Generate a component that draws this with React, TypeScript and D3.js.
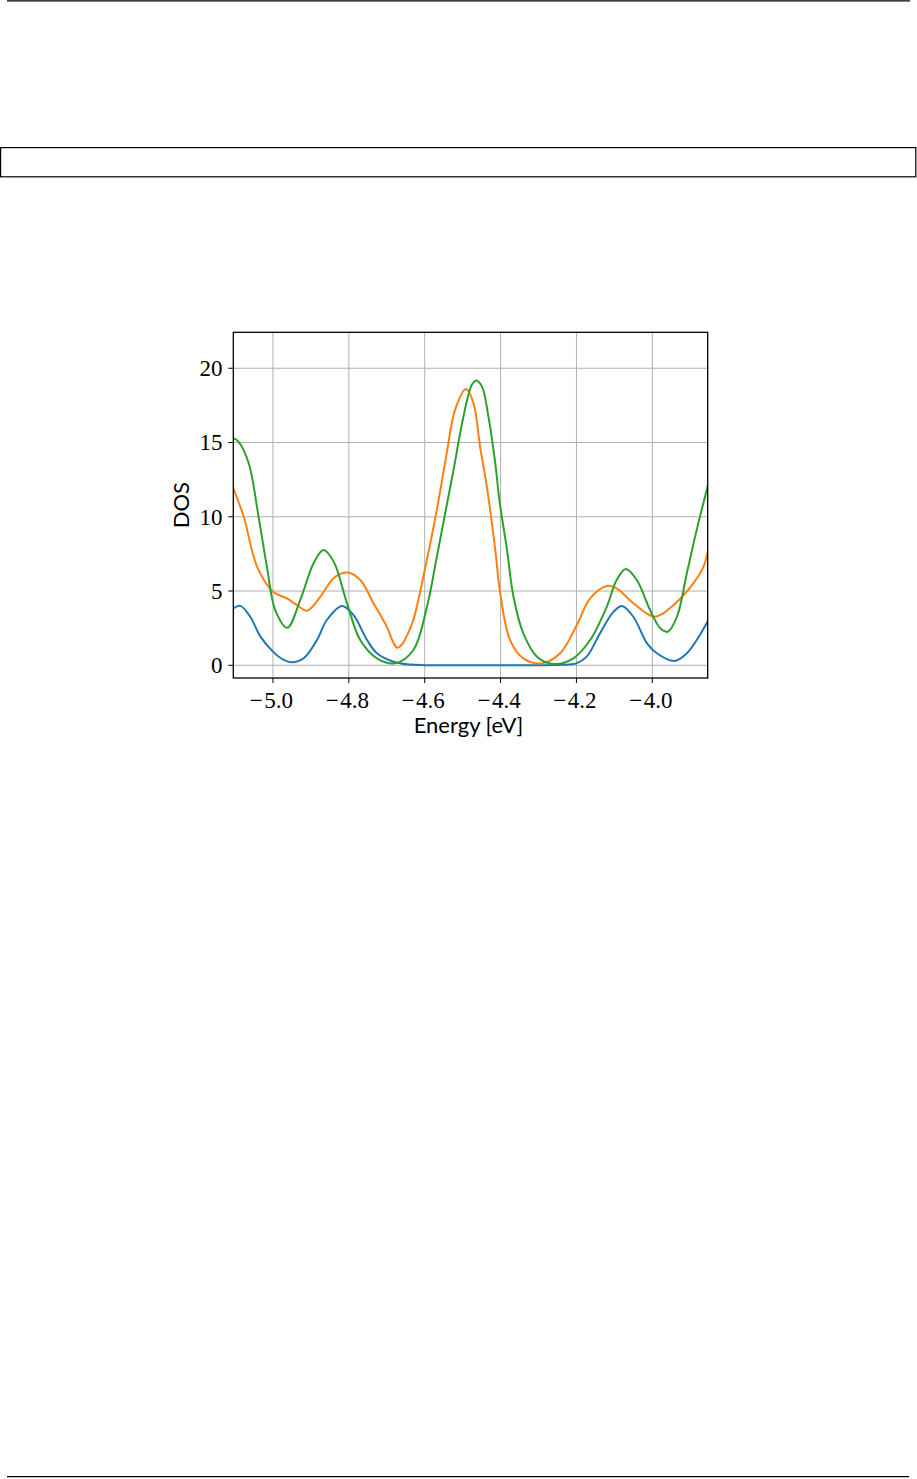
import React from "react";
import * as d3 from "d3";

const W = 917;
const H = 1479;

const xTicks = [-5.0, -4.8, -4.6, -4.4, -4.2, -4.0];
const yTicks = [0, 5, 10, 15, 20];
const xDomain: [number, number] = [-5.1046, -3.854];
const yDomain: [number, number] = [-0.855, 22.42];

const xLabel = "Energy [eV]";
const yLabel = "DOS";

const blueSeries: [number, number][] = [
  [-5.104, 3.84], [-5.086, 4.0], [-5.06, 3.27], [-5.033, 1.93], [-5.0, 0.92],
  [-4.972, 0.36], [-4.95, 0.2], [-4.919, 0.47], [-4.884, 1.7], [-4.858, 3.05],
  [-4.818, 4.0], [-4.788, 3.39], [-4.752, 1.7], [-4.726, 0.81], [-4.682, 0.24],
  [-4.64, 0.05], [-4.6, 0.01], [-4.5, 0.0], [-4.4, 0.0], [-4.3, 0.0],
  [-4.24, 0.03], [-4.2, 0.13], [-4.173, 0.58], [-4.138, 2.15], [-4.102, 3.61],
  [-4.08, 4.0], [-4.05, 3.27], [-4.014, 1.48], [-3.988, 0.81], [-3.942, 0.29],
  [-3.909, 0.81], [-3.883, 1.7], [-3.852, 3.05],
];

const orangeSeries: [number, number][] = [
  [-5.104, 11.87], [-5.077, 10.0], [-5.042, 6.64], [-5.0, 4.96], [-4.963, 4.5],
  [-4.937, 4.06], [-4.91, 3.68], [-4.875, 4.62], [-4.84, 5.86], [-4.805, 6.24],
  [-4.77, 5.74], [-4.735, 4.18], [-4.7, 2.6], [-4.684, 1.6],
  [-4.673, 1.19], [-4.66, 1.4], [-4.645, 2.1], [-4.63, 3.05],
  [-4.6, 6.4], [-4.568, 10.46], [-4.542, 14.27], [-4.52, 17.2], [-4.491, 18.6],
  [-4.471, 17.6], [-4.454, 14.7], [-4.436, 12.0], [-4.414, 7.76], [-4.401, 4.85],
  [-4.375, 1.7], [-4.34, 0.47], [-4.291, 0.13], [-4.243, 0.81], [-4.199, 2.71],
  [-4.164, 4.5], [-4.12, 5.34], [-4.094, 5.18], [-4.05, 4.18], [-3.993, 3.27],
  [-3.944, 4.06], [-3.892, 5.52], [-3.865, 6.64], [-3.852, 7.88],
];

const greenSeries: [number, number][] = [
  [-5.104, 15.29], [-5.091, 15.06], [-5.064, 13.6], [-5.038, 10.0], [-5.016, 6.64],
  [-4.994, 3.72], [-4.962, 2.53], [-4.928, 4.4], [-4.893, 6.87], [-4.867, 7.76],
  [-4.84, 6.98], [-4.805, 4.18], [-4.77, 1.7], [-4.726, 0.47], [-4.678, 0.13],
  [-4.63, 1.03], [-4.594, 3.95], [-4.568, 7.31], [-4.546, 10.24], [-4.524, 13.15],
  [-4.498, 16.74], [-4.476, 18.87], [-4.464, 19.17], [-4.449, 18.76], [-4.432, 16.74],
  [-4.414, 13.6], [-4.403, 11.1], [-4.383, 7.76], [-4.366, 4.62], [-4.34, 2.15],
  [-4.304, 0.58], [-4.261, 0.09], [-4.208, 0.47], [-4.164, 1.7], [-4.12, 3.95],
  [-4.094, 5.74], [-4.07, 6.48], [-4.041, 5.74], [-4.006, 3.72], [-3.979, 2.49],
  [-3.959, 2.26], [-3.935, 3.27], [-3.909, 6.2], [-3.883, 9.11], [-3.852, 12.25],
];

const seriesList = [
  { name: "blue", data: blueSeries, color: "#1f77b4" },
  { name: "orange", data: orangeSeries, color: "#ff7f0e" },
  { name: "green", data: greenSeries, color: "#2ca02c" },
];

export default function App() {
  const left = 233.3;
  const right = 707.7;
  const top = 332.3;
  const bottom = 678;

  const x = d3.scaleLinear().domain(xDomain).range([left, right]);
  const y = d3.scaleLinear().domain(yDomain).range([bottom, top]);

  const line = d3
    .line<[number, number]>()
    .x((d) => x(d[0]))
    .y((d) => y(Math.max(0, d[1])))
    .curve(d3.curveCatmullRom.alpha(0.5));

  const serif = "'Liberation Serif', 'Times New Roman', serif";
  const sans = "Lato, 'Open Sans', sans-serif";

  return (
    <svg
      width={W}
      height={H}
      viewBox={`0 0 ${W} ${H}`}
      style={{ position: "absolute", left: 0, top: 0, background: "#fff" }}
    >
      <rect x={0} y={0} width={W} height={H} fill="#fff" />
      {/* page decorations */}
      <line x1={7} x2={910} y1={0.8} y2={0.8} stroke="#000" strokeWidth={1.2} />
      <rect x={0.6} y={147.6} width={915.2} height={29.2} fill="none" stroke="#000" strokeWidth={1.2} />
      <line x1={7} x2={909} y1={1476.6} y2={1476.6} stroke="#000" strokeWidth={1.2} />

      <defs>
        <clipPath id="plotclip">
          <rect x={left} y={top} width={right - left} height={bottom - top} />
        </clipPath>
      </defs>

      {/* grid */}
      {xTicks.map((t) => (
        <line key={"gx" + t} x1={x(t)} x2={x(t)} y1={top} y2={bottom} stroke="#b0b0b0" strokeWidth={1} />
      ))}
      {yTicks.map((t) => (
        <line key={"gy" + t} x1={left} x2={right} y1={y(t)} y2={y(t)} stroke="#b0b0b0" strokeWidth={1} />
      ))}

      {/* series */}
      <g clipPath="url(#plotclip)">
        {seriesList.map((s) => (
          <path
            key={s.name}
            d={line(s.data) || ""}
            fill="none"
            stroke={s.color}
            strokeWidth={2}
            strokeLinejoin="round"
            strokeLinecap="square"
          />
        ))}
      </g>

      {/* frame */}
      <rect x={left} y={top} width={right - left} height={bottom - top} fill="none" stroke="#000" strokeWidth={1.3} />

      {/* x ticks */}
      {xTicks.map((t) => (
        <g key={"tx" + t}>
          <line x1={x(t)} x2={x(t)} y1={bottom} y2={bottom + 5} stroke="#000" strokeWidth={1} />
          <text
            x={x(t) - 1.5}
            y={707.5}
            textAnchor="middle"
            fontFamily={serif}
            fontSize={23}
            fill="#000"
          >
            <tspan>{"\u2212"}</tspan>
            <tspan dx={1.5}>{Math.abs(t).toFixed(1)}</tspan>
          </text>
        </g>
      ))}

      {/* y ticks */}
      {yTicks.map((t) => (
        <g key={"ty" + t}>
          <line x1={left - 5} x2={left} y1={y(t)} y2={y(t)} stroke="#000" strokeWidth={1} />
          <text
            x={222.5}
            y={y(t) + 7.8}
            textAnchor="end"
            fontFamily={serif}
            fontSize={23}
            fill="#000"
          >
            {String(t)}
          </text>
        </g>
      ))}

      {/* axis labels */}
      <text
        x={(left + right) / 2 - 2}
        y={733}
        textAnchor="middle"
        fontFamily={sans}
        fontSize={22}
        fill="#000"
      >
        {xLabel}
      </text>
      <text
        transform={`translate(189, ${(top + bottom) / 2}) rotate(-90)`}
        textAnchor="middle"
        fontFamily={sans}
        fontSize={22}
        fill="#000"
      >
        {yLabel}
      </text>
    </svg>
  );
}
